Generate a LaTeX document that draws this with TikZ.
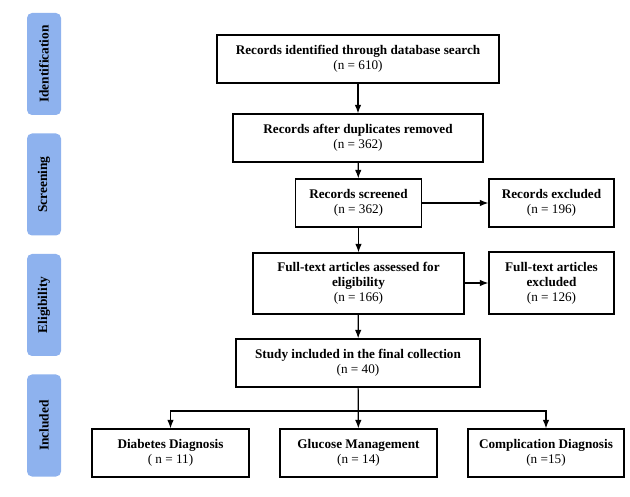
\documentclass[tikz,border=0pt]{standalone}
\usepackage{fontspec}
\setmainfont{Liberation Serif}
\usepackage{tikz}
\usetikzlibrary{arrows.meta,calc}
\definecolor{stagecol}{RGB}{142,178,238}

\begin{document}
\begin{tikzpicture}[x=1pt,y=-1pt,>={Latex[length=8.5pt,width=6.5pt]},
		box/.style={draw, line width=1.2pt, align=center, inner sep=0pt,
			font=\fontsize{13.2}{15}\selectfont},
		stage/.style={fill=stagecol, rounded corners=5pt, rotate=90, inner sep=0pt,
			minimum width=102pt, minimum height=34pt,
			font=\fontsize{13.4}{15}\selectfont\bfseries},
		flow/.style={->, line width=1.2pt}]
			\useasboundingbox (0,0) rectangle (630,497);
			% stages
			\node[stage] (ident) at (44,64) {Identification};
			\node[stage] (screen) at (44,184.5) {Screening};
			\node[stage] (elig) at (44,305) {Eligibility};
			\node[stage] (incl) at (44,425.5) {Included};
			% main column
			\node[box, minimum width=282pt, minimum height=48pt] (found) at (358,59) {\textbf{Records identified through database search}\\(n = 610)};
			\node[box, minimum width=250pt, minimum height=48pt] (dedup) at (358,138) {\textbf{Records after duplicates removed}\\(n = 362)};
			\node[box, minimum width=126pt, minimum height=48pt] (screened) at (358.5,203) {\textbf{Records screened}\\(n = 362)};
			\node[box, minimum width=211pt, minimum height=61pt] (fulltext) at (358.5,283.5) {\textbf{Full-text articles assessed for}\\\textbf{eligibility}\\(n = 166)};
			\node[box, minimum width=244pt, minimum height=48pt] (final) at (358,363) {\textbf{Study included in the final collection}\\(n = 40)};
			% exclusions
			\node[box, minimum width=125pt, minimum height=48pt] (excl1) at (551.5,203) {\textbf{Records excluded}\\(n = 196)};
			\node[box, minimum width=125pt, minimum height=62pt] (excl2) at (551.5,283) {\textbf{Full-text articles}\\\textbf{excluded}\\(n = 126)};
			% categories
			\node[box, minimum width=157pt, minimum height=48pt] (diag) at (170.5,453) {\textbf{Diabetes Diagnosis}\\( n = 11)};
			\node[box, minimum width=157pt, minimum height=48pt] (gluc) at (358.5,453) {\textbf{Glucose Management}\\(n = 14)};
			\node[box, minimum width=156pt, minimum height=48pt] (compl) at (546,453) {\textbf{Complication Diagnosis}\\(n =15)};
			% arrows
			\draw[flow] (found) -- (dedup);
			\draw[flow] (dedup) -- (screened);
			\draw[flow] (screened) -- (fulltext);
			\draw[flow] (fulltext) -- (final);
			\draw[flow] (screened) -- (excl1);
			\draw[flow] (fulltext.east |- excl2) -- (excl2);
			\coordinate (split) at (final.south |- 0,411);
			\draw[flow] (final) -- (gluc);
			\draw[flow] (split) -| (diag);
			\draw[flow] (split) -| (compl);
		\end{tikzpicture}
\end{document}
